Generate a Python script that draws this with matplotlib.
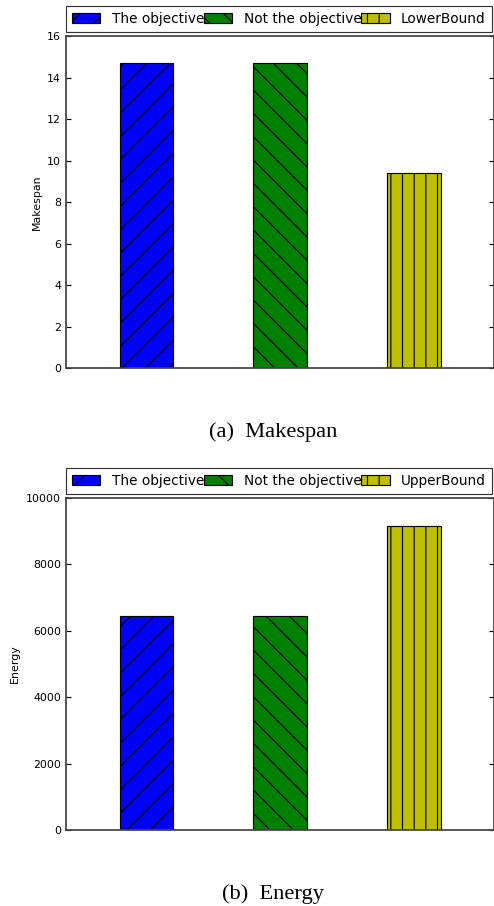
import matplotlib
matplotlib.use("Agg")
import matplotlib.pyplot as plt

# bar values for the two panels
x_pos = [0, 1, 2]
makespan_vals = [14.7, 14.7, 9.4]
energy_vals = [6450, 6450, 9160]
makespan_labels = ["The objective", "Not the objective", "LowerBound"]
energy_labels = ["The objective", "Not the objective", "UpperBound"]
bar_colors = ["#0000ff", "#008000", "#bfbf00"]
bar_hatches = ["//", "\\\\", "||"]
makespan_ticks = [0, 2, 4, 6, 8, 10, 12, 14, 16]
energy_ticks = [0, 2000, 4000, 6000, 8000, 10000]

DPI = 140
W, H = 494, 906

plt.rcParams["hatch.linewidth"] = 0.6
plt.rcParams["font.family"] = "DejaVu Sans"

fig = plt.figure(figsize=(W / DPI, H / DPI), dpi=DPI)


def panel(top_px, legend_top_px, values, labels, ticks, ylabel, label_x):
    left = 66 / W
    ax = fig.add_axes([left, 1 - (top_px + 332) / H, 428.5 / W, 332 / H])
    handles = []
    for xi, v, c, h, lab in zip(x_pos, values, bar_colors, bar_hatches, labels):
        b = ax.bar(xi, v, width=0.4, color=c, edgecolor="black",
                   linewidth=0.6, hatch=h, label=lab)
        handles.append(b)
    ax.set_xlim(-0.6, 2.6)
    ax.set_ylim(ticks[0], ticks[-1])
    ax.set_yticks(ticks)
    ax.set_xticks([])
    ax.tick_params(axis="y", direction="in", length=2.5, width=0.6,
                   labelsize=5.7, pad=2.5, right=True, colors="black")
    for s in ax.spines.values():
        s.set_color("#444444")
        s.set_linewidth(0.9)
    ax.set_ylabel(ylabel, fontsize=5.7)
    ax.yaxis.set_label_coords(label_x, 0.5)
    leg = fig.legend(handles=handles, labels=labels, ncol=3, loc="upper left",
                     bbox_to_anchor=(left, 1 - legend_top_px / H),
                     bbox_transform=fig.transFigure, borderaxespad=0,
                     fontsize=7, handlelength=2.06, handleheight=0.75,
                     handletextpad=0.85, columnspacing=0.0, borderpad=0.45,
                     fancybox=False, frameon=True)
    leg.get_frame().set_edgecolor("black")
    leg.get_frame().set_linewidth(0.6)
    return ax


panel(36, 6, makespan_vals, makespan_labels, makespan_ticks, "Makespan", -0.056)
panel(498, 468, energy_vals, energy_labels, energy_ticks, "Energy", -0.1085)

fig.text(273 / W, 1 - 437 / H, "(a)  Makespan", ha="center", va="baseline",
         family="Liberation Serif", fontsize=11.5)
fig.text(273 / W, 1 - 899 / H, "(b)  Energy", ha="center", va="baseline",
         family="Liberation Serif", fontsize=11.5)

fig.savefig("out.png", dpi=DPI)
